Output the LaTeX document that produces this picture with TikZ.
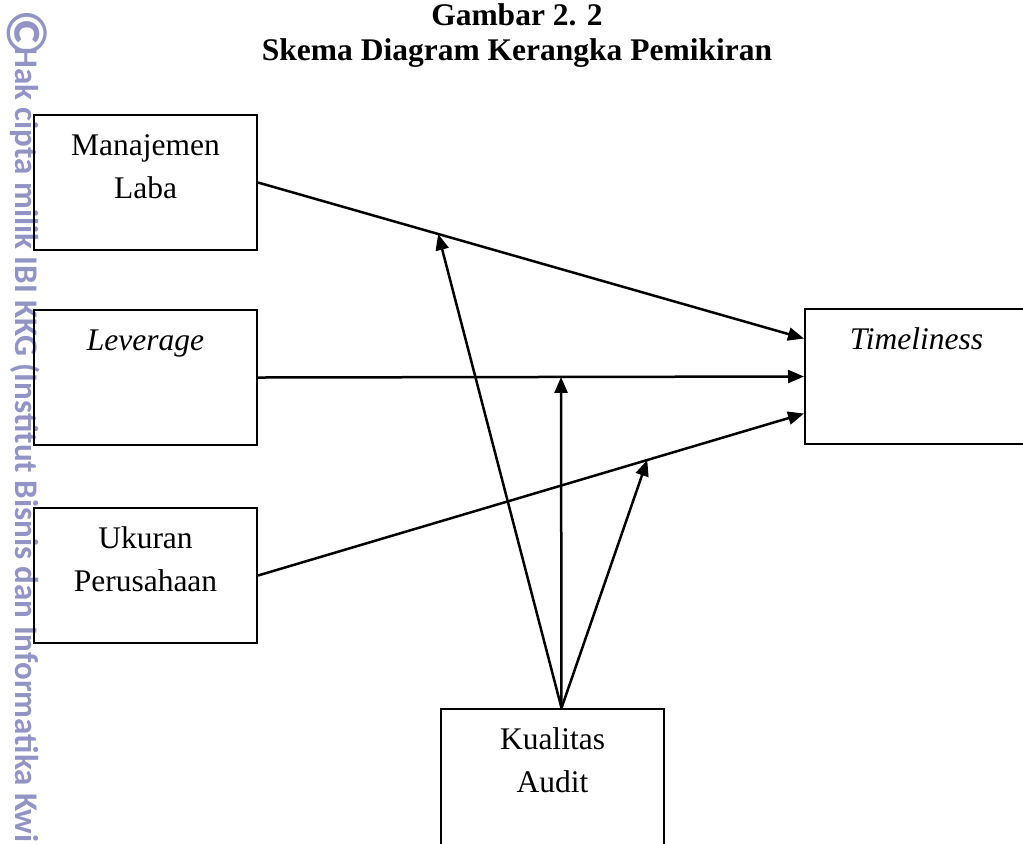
\documentclass[tikz,border=0pt]{standalone}
\usepackage{fontspec}
\setmainfont{Liberation Serif}
\newfontfamily\wmfont{Carlito}
\usetikzlibrary{arrows.meta,calc}
\definecolor{wmcol}{RGB}{145,148,196}
\newcommand\boxtxt[2]{\parbox[t][#1][t]{89.2pt}{\centering\rule{0pt}{16pt}#2}}
\begin{document}
\begin{tikzpicture}[x=0.4pt,y=-0.4pt,
  box/.style={draw,line width=0.8pt,inner sep=0pt,anchor=north west,
    font=\fontsize{12.6}{17.4}\selectfont},
  ttl/.style={anchor=base,inner sep=0pt,font=\fontsize{12.6}{14}\selectfont\bfseries},
  conn/.style={line width=1pt,-{Triangle[length=6.4pt,width=5.2pt]}},
  wm/.style={text=wmcol,inner sep=0pt,rotate=-90,font=\wmfont\bfseries\fontsize{13.2}{14}\selectfont}]
\useasboundingbox (0,0) rectangle (1023,843);
% watermark
\node[wm,anchor=base,font=\wmfont\bfseries\fontsize{23}{23}\selectfont] (cr) at (7,33) {©};
\node[wm,anchor=base west] (wt) at (15,47) {Hak cipta milik IBI KKG (Institut Bisnis dan Informatika Kwi};
% title
\node[ttl] (t1) at (517,25) {Gambar 2. 2};
\node[ttl] (t2) at (517,60) {Skema Diagram Kerangka Pemikiran};
% boxes
\node[box] (ml) at (33,114) {\boxtxt{54pt}{Manajemen\\Laba}};
\node[box] (lev) at (33,309) {\boxtxt{54pt}{\itshape Leverage}};
\node[box] (uk) at (33,507) {\boxtxt{54pt}{Ukuran\\Perusahaan}};
\node[box] (tl) at (804,308) {\boxtxt{54pt}{\itshape Timeliness}};
\node[box] (ka) at (440,708) {\boxtxt{62pt}{Kualitas\\Audit}};
% connector end points
\coordinate (tl1) at ($(tl.west)+(0,-38)$);
\coordinate (tl2) at (tl.west);
\coordinate (tl3) at ($(tl.west)+(0,37)$);
\draw[conn] (ml.east) -- (tl1);
\draw[conn] (lev.east) -- (tl2);
\draw[conn] (uk.east) -- (tl3);
\coordinate (p1) at ($(ml.east)!0.33!(tl1)$);
\coordinate (p2) at ($(lev.east)!0.555!(tl2)$);
\coordinate (p3) at ($(uk.east)!0.713!(tl3)$);
\coordinate (src) at ($(ka.north)+(9,0)$);
\draw[conn] (src) -- (p1);
\draw[conn] (src) -- (p2);
\draw[conn] (src) -- (p3);
\end{tikzpicture}
\end{document}
